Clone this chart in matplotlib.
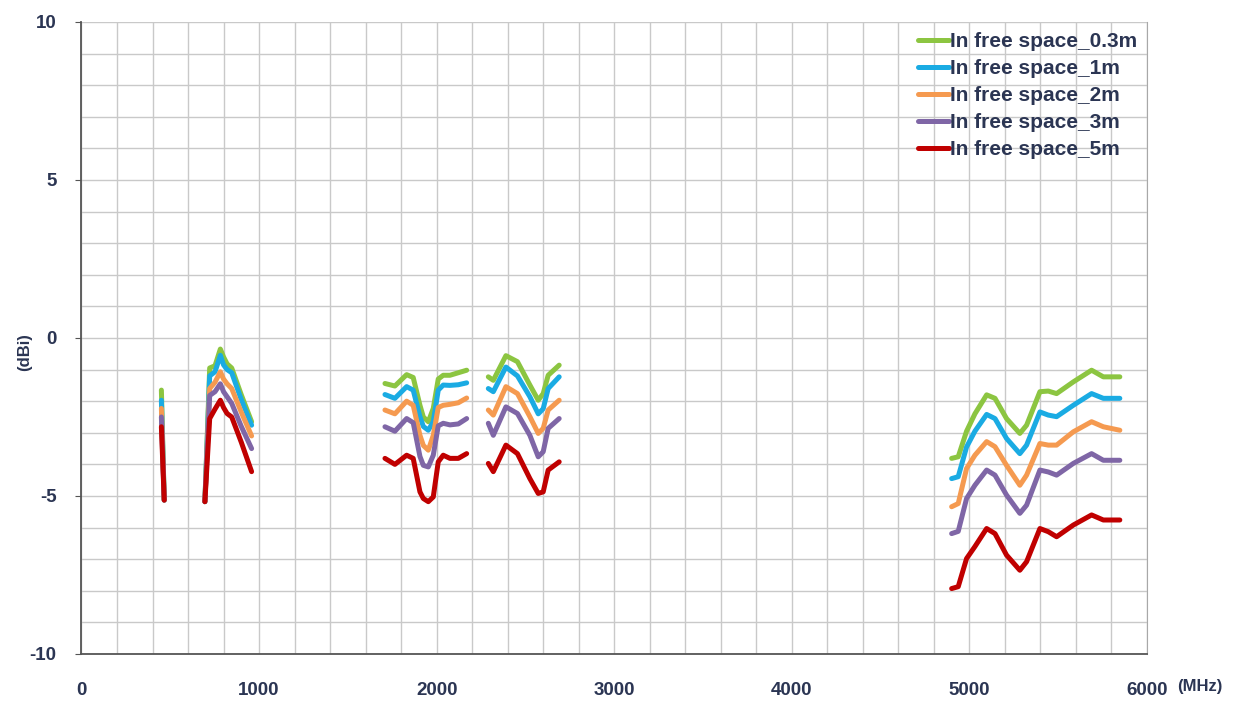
import matplotlib
matplotlib.use("Agg")
import matplotlib.pyplot as plt
from matplotlib.ticker import MultipleLocator

labels = ["In free space_0.3m", "In free space_1m", "In free space_2m",
          "In free space_3m", "In free space_5m"]
colors = ["#8CC541", "#1AABE3", "#F59A50", "#7F66A6", "#C00000"]

# Band A (~450-470 MHz)
xa = [450, 466]
ya = [[-1.65, -5.13], [-1.97, -5.13], [-2.23, -5.13], [-2.5, -5.13], [-2.81, -5.13]]

# Band B (~700-960 MHz)
xb = [695, 722, 752, 782, 800, 820, 846, 900, 958]
yb = [
    [-5.18, -0.95, -0.88, -0.35, -0.6, -0.82, -0.95, -1.8, -2.65],
    [-5.18, -1.2, -1.07, -0.55, -0.85, -1.0, -1.1, -1.95, -2.76],
    [-5.18, -1.6, -1.4, -1.07, -1.3, -1.45, -1.6, -2.35, -3.1],
    [-5.18, -1.82, -1.7, -1.45, -1.7, -1.86, -2.07, -2.8, -3.5],
    [-5.18, -2.55, -2.25, -1.97, -2.2, -2.39, -2.5, -3.3, -4.23],
]

# Band C (~1700-2170 MHz)
xc = [1709, 1765, 1831, 1868, 1906, 1925, 1953, 1981, 2009, 2037, 2075, 2122, 2169]
yc = [
    [-1.44, -1.52, -1.16, -1.25, -2.13, -2.5, -2.65, -2.23, -1.3, -1.18, -1.18, -1.1, -1.02],
    [-1.79, -1.91, -1.54, -1.65, -2.49, -2.8, -2.92, -2.65, -1.65, -1.49, -1.5, -1.48, -1.42],
    [-2.28, -2.4, -2.0, -2.13, -3.08, -3.4, -3.55, -3.08, -2.2, -2.13, -2.1, -2.05, -1.9],
    [-2.81, -2.95, -2.55, -2.68, -3.75, -4.03, -4.08, -3.71, -2.78, -2.7, -2.75, -2.72, -2.55],
    [-3.81, -4.0, -3.71, -3.81, -4.87, -5.08, -5.18, -5.03, -3.92, -3.71, -3.81, -3.81, -3.66],
]

# Band D (~2290-2690 MHz)
xd = [2291, 2319, 2390, 2455, 2525, 2572, 2600, 2628, 2690]
yd = [
    [-1.23, -1.34, -0.56, -0.75, -1.49, -1.97, -1.76, -1.18, -0.86],
    [-1.6, -1.7, -0.92, -1.2, -1.86, -2.4, -2.24, -1.6, -1.23],
    [-2.28, -2.44, -1.54, -1.76, -2.49, -3.02, -2.86, -2.28, -1.97],
    [-2.7, -3.08, -2.18, -2.39, -3.08, -3.76, -3.6, -2.86, -2.55],
    [-3.97, -4.23, -3.39, -3.66, -4.45, -4.92, -4.87, -4.18, -3.92],
]

# Band E (~4900-5850 MHz)
xe = [4900, 4937, 4984, 5031, 5097, 5144, 5209, 5284, 5322, 5397, 5444, 5491, 5585, 5688, 5754, 5847]
ye = [
    [-3.81, -3.76, -2.95, -2.4, -1.8, -1.91, -2.55, -3.02, -2.76, -1.7, -1.68, -1.76, -1.39, -1.02, -1.23, -1.23],
    [-4.45, -4.39, -3.45, -2.95, -2.42, -2.55, -3.18, -3.66, -3.39, -2.34, -2.44, -2.49, -2.13, -1.76, -1.91, -1.91],
    [-5.34, -5.24, -4.13, -3.71, -3.28, -3.44, -4.03, -4.66, -4.34, -3.34, -3.39, -3.39, -2.97, -2.65, -2.81, -2.92],
    [-6.19, -6.12, -5.08, -4.66, -4.18, -4.34, -4.97, -5.55, -5.29, -4.18, -4.24, -4.34, -3.97, -3.66, -3.87, -3.87],
    [-7.93, -7.87, -6.98, -6.6, -6.03, -6.19, -6.87, -7.35, -7.08, -6.03, -6.13, -6.29, -5.92, -5.6, -5.76, -5.76],
]

xticks = [0, 1000, 2000, 3000, 4000, 5000, 6000]
yticks = [-10, -5, 0, 5, 10]

txt_color = "#2B3553"
plt.rcParams["font.family"] = ["Liberation Sans", "DejaVu Sans"]
plt.rcParams["axes.unicode_minus"] = False

fig = plt.figure(figsize=(12.4, 7.02), dpi=100)
ax = fig.add_axes([0.0657, 0.0684, 0.8593, 0.9003])

bands = [(xa, ya), (xb, yb), (xc, yc), (xd, yd), (xe, ye)]
for i in range(5):
    for j, (xs, ys) in enumerate(bands):
        ax.plot(xs, ys[i], color=colors[i], lw=3.6, solid_capstyle="round",
                solid_joinstyle="round", label=labels[i] if j == 0 else None, zorder=3 + i)

ax.set_xlim(0, 6000)
ax.set_ylim(-10, 10)
ax.set_xticks(xticks)
ax.set_yticks(yticks)
ax.xaxis.set_minor_locator(MultipleLocator(200))
ax.yaxis.set_minor_locator(MultipleLocator(1))
ax.grid(which="both", color="#C9C9C9", lw=1.0, zorder=0)
ax.set_axisbelow(True)

for s in ["left", "bottom"]:
    ax.spines[s].set_color("#555555")
    ax.spines[s].set_linewidth(1.3)
ax.spines["top"].set_visible(False)
ax.spines["right"].set_color("#A8A8A8")

ax.tick_params(axis="x", which="major", length=0, pad=20, labelsize=13.5, labelcolor=txt_color)
ax.tick_params(axis="x", which="minor", length=0)
ax.tick_params(axis="y", which="major", length=4, color="#555555", pad=14, labelsize=13.5, labelcolor=txt_color)
ax.tick_params(axis="y", which="minor", length=0)
for lab in ax.get_xticklabels() + ax.get_yticklabels():
    lab.set_fontweight("bold")

fig.text(25 / 1240, 1 - 352 / 702, "(dBi)", rotation=90, fontsize=12, fontweight="bold",
         color=txt_color, ha="center", va="center")
ax.text(1.028, -0.052, "(MHz)", transform=ax.transAxes, fontsize=12, fontweight="bold",
        color=txt_color, ha="left", va="center")

leg = ax.legend(loc="upper left", bbox_to_anchor=(0.775, 1.0), frameon=False,
                handlelength=1.5, handletextpad=0.05, labelspacing=0.38, borderpad=0,
                prop={"size": 15, "weight": "bold"})
for t in leg.get_texts():
    t.set_color(txt_color)

fig.savefig("out.png", dpi=100, facecolor="white")
